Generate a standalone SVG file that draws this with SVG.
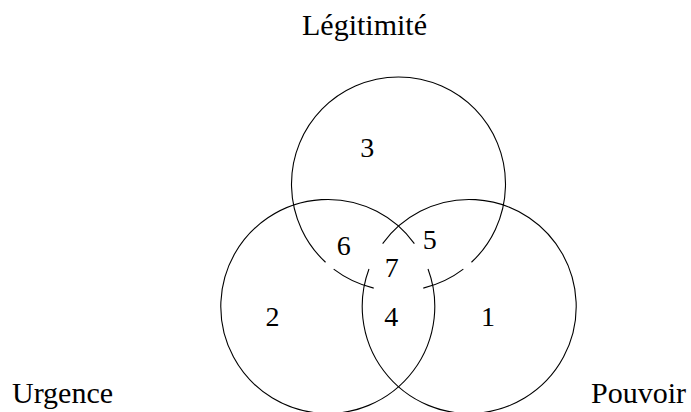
<svg xmlns="http://www.w3.org/2000/svg" width="691" height="412" viewBox="0 0 691 412">
<rect width="691" height="412" fill="#fff"/>
<g id="legitimite" fill="none" stroke="#000" stroke-width="1.1">
<path d="M 325.53 262.26 A 107 107 0 1 1 471.47 262.26"/>
<path d="M 463.34 269.12 A 107 107 0 0 1 423.29 288.09"/>
<path d="M 373.71 288.09 A 107 107 0 0 1 333.66 269.12"/>
</g>
<g id="urgence" fill="none" stroke="#000" stroke-width="1.1">
<path d="M 428.02 269.03 A 107 107 0 1 1 414.37 243.61"/>
</g>
<g id="pouvoir" fill="none" stroke="#000" stroke-width="1.1">
<path d="M 382.63 243.61 A 107 107 0 1 1 368.98 269.03"/>
</g>
<g id="connectors"/>
<text x="302" y="35" font-size="30" font-family="Liberation Serif">Légitimité</text>
<text x="12" y="403" font-size="30" font-family="Liberation Serif">Urgence</text>
<text x="591" y="403" font-size="30" font-family="Liberation Serif">Pouvoir</text>
<text x="481" y="326" font-size="28" font-family="Liberation Serif">1</text>
<text x="265.5" y="326" font-size="28" font-family="Liberation Serif">2</text>
<text x="360.3" y="157.3" font-size="28" font-family="Liberation Serif">3</text>
<text x="384.2" y="326" font-size="28" font-family="Liberation Serif">4</text>
<text x="422.7" y="249" font-size="28" font-family="Liberation Serif">5</text>
<text x="336.7" y="255" font-size="28" font-family="Liberation Serif">6</text>
<text x="384.7" y="277.3" font-size="28" font-family="Liberation Serif">7</text>
</svg>
